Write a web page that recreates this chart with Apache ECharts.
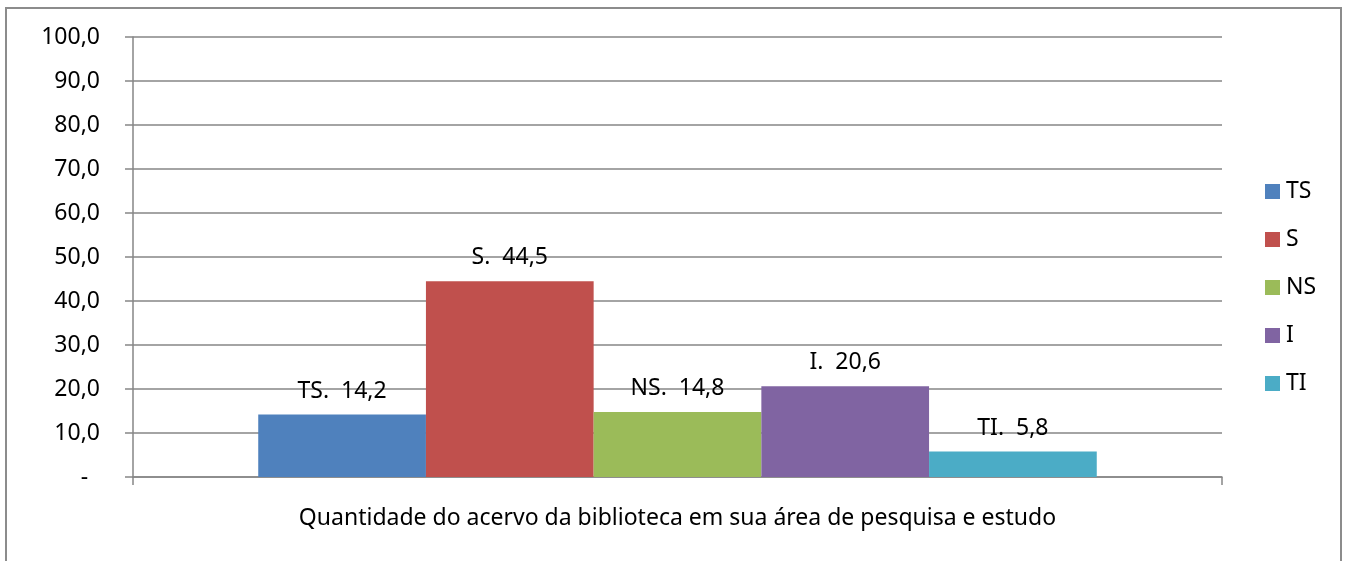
<!DOCTYPE html>
<html>
<head>
<meta charset="utf-8">
<script src="https://cdn.jsdelivr.net/npm/echarts@6/dist/echarts.min.js"></script>
<style>
  html, body { margin: 0; padding: 0; background: #fff; }
  #chart { width: 1347px; height: 561px; }
</style>
</head>
<body>
<div id="chart"></div>
<script>
// dados do gráfico
const categories = ['Quantidade do acervo da biblioteca em sua área de pesquisa e estudo'];
const seriesNames = ['TS', 'S', 'NS', 'I', 'TI'];
const seriesValues = [14.2, 44.5, 14.8, 20.6, 5.8];
const seriesColors = ['#4F81BD', '#C0504D', '#9BBB59', '#8064A2', '#4BACC6'];

const fontFamily = '"Noto Sans", "Open Sans", sans-serif';
const fontSize = 23;

// formato brasileiro: vírgula decimal
function fmt(v) {
    return v.toFixed(1).replace('.', ',');
}

const chart = echarts.init(document.getElementById('chart'));

const series = seriesNames.map((name, i) => ({
    name: name,
    type: 'bar',
    data: [seriesValues[i]],
    barGap: '0%',
    barCategoryGap: '23%',
    itemStyle: { color: seriesColors[i] },
    label: {
        show: true,
        position: 'top',
        distance: 12,
        color: '#000',
        fontFamily: fontFamily,
        fontSize: fontSize,
        formatter: p => p.seriesName + '.  ' + fmt(p.value)
    }
}));

chart.setOption({
    animation: false,
    textStyle: { fontFamily: fontFamily },
    graphic: [{
        type: 'rect',
        shape: { x: 6, y: 8, width: 1335, height: 560 },
        style: { fill: 'none', stroke: '#8c8c8c', lineWidth: 2 },
        silent: true,
        z: -1
    }],
    grid: { left: 133, right: 125, top: 37, bottom: 84 },
    legend: {
        orient: 'vertical',
        left: 1260,
        top: 175,
        itemWidth: 15,
        itemHeight: 15,
        itemGap: 25,
        icon: 'rect',
        data: seriesNames,
        textStyle: { color: '#000', fontSize: fontSize, fontFamily: fontFamily, padding: [0, 0, 0, 1] }
    },
    xAxis: {
        type: 'category',
        data: categories,
        axisLine: { lineStyle: { color: '#868686', width: 1.5 } },
        axisTick: { show: true, length: 8, lineStyle: { color: '#868686', width: 1.5 } },
        axisLabel: { color: '#000', fontSize: fontSize, fontFamily: fontFamily, margin: 30 }
    },
    yAxis: {
        type: 'value',
        min: 0,
        max: 100,
        interval: 10,
        axisLine: { show: true, lineStyle: { color: '#868686', width: 1.5 } },
        axisTick: { show: true, length: 8, lineStyle: { color: '#868686', width: 1.5 } },
        splitLine: { lineStyle: { color: '#868686', width: 1.5 } },
        axisLabel: {
            color: '#000',
            fontSize: fontSize,
            fontFamily: fontFamily,
            margin: 33,
            formatter: v => v === 0 ? '-  ' : fmt(v)
        }
    },
    series: series
});
</script>
</body>
</html>
